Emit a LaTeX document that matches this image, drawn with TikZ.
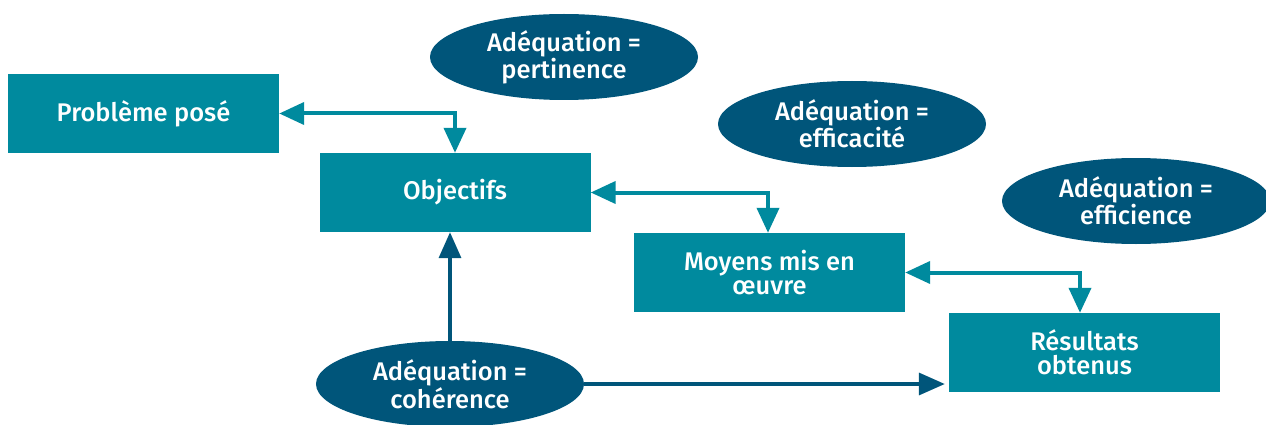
\documentclass[tikz,border=0pt]{standalone}
\usepackage{fontspec}
\setmainfont{Fira Sans Medium}
\usetikzlibrary{shapes.geometric,arrows.meta}
\definecolor{teal1}{HTML}{008A9E}
\definecolor{navy1}{HTML}{00557A}
\begin{document}
\begin{tikzpicture}[x=1pt,y=-1pt,
  box/.style={fill=teal1,text=white,minimum width=271pt,minimum height=79pt,inner sep=0pt,align=center,font=\fontsize{25.5}{24}\selectfont},
  oval/.style={ellipse,fill=navy1,text=white,minimum width=268pt,minimum height=86pt,inner sep=0pt,align=center,font=\fontsize{25.5}{24}\selectfont},
  tlink/.style={draw=teal1,line width=4pt,{Triangle[width=22pt,length=25pt]}-{Triangle[width=22pt,length=25pt]}},
  nlink/.style={draw=navy1,line width=3.5pt,-{Triangle[width=22pt,length=26pt]}}]
\useasboundingbox (0,0) rectangle (1266,425);
\node[box] (prob) at (143.5,113.5) {Problème posé};
\node[box] (obj) at (455,192.5) {Objectifs};
\node[box] (moy) at (769.5,272.5) {Moyens mis en\\œuvre};
\node[box] (res) at (1084.5,352.5) {Résultats\\obtenus};
\node[oval] (pert) at (564,57) {Adéquation =\\pertinence};
\node[oval] (effa) at (852,124) {Adéquation =\\efficacité};
\node[oval] (effe) at (1136,201) {Adéquation =\\efficience};
\node[oval] (coh) at (450,384) {Adéquation =\\cohérence};
\draw[tlink] (prob.east) -| (obj.north);
\draw[tlink] (obj.east) -| ([xshift=-1.5pt]moy.north);
\draw[tlink] (moy.east) -| ([xshift=-4.5pt]res.north);
\draw[nlink] (coh.north) -- (coh.north |- obj.south);
\draw[nlink,shorten >=4pt] (coh.east) -- (coh.east -| res.west);
\end{tikzpicture}
\end{document}
